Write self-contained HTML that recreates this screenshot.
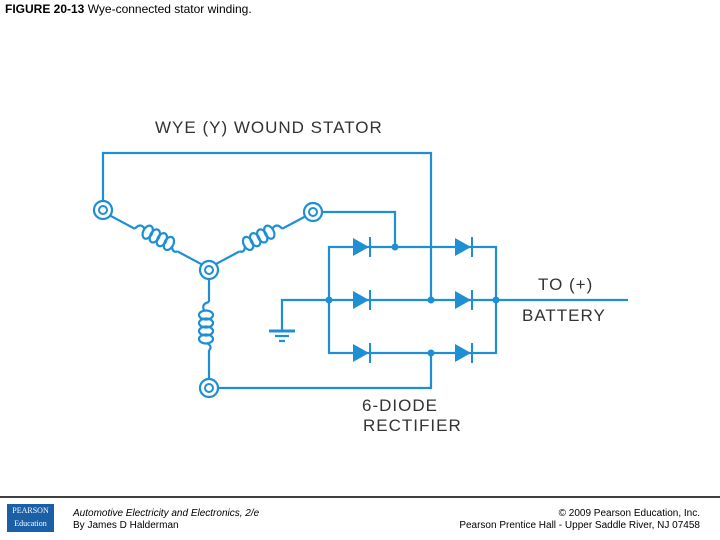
<!DOCTYPE html>
<html><head><style>
body{margin:0;width:720px;height:540px;background:#fff;position:relative;overflow:hidden;font-family:"Liberation Sans",sans-serif}
.t{position:absolute;white-space:nowrap}
.L{font-size:17px;color:#333;letter-spacing:1px}
</style></head><body>
<div class="t" style="left:5px;top:2px;font-size:12px"><b>FIGURE 20-13</b> Wye-connected stator winding.</div>
<svg width="720" height="540" style="position:absolute;left:0;top:0">
<defs>
<g id="d"><polygon points="-9,-9 -9,9 7,0"/><rect x="7" y="-10" width="2" height="20"/></g>
<g id="coil" fill="none" stroke="#1e8fd5" stroke-width="2.2">
<line x1="-60" y1="0" x2="-24" y2="0"/>
<line x1="24" y1="0" x2="60" y2="0"/>
<path d="M-24,0 q2,-8 8,-5"/>
<ellipse cx="-11" cy="-3" rx="4.5" ry="7"/>
<ellipse cx="-3" cy="-3" rx="4.5" ry="7"/>
<ellipse cx="5" cy="-3" rx="4.5" ry="7"/>
<ellipse cx="13" cy="-3" rx="4.5" ry="7"/>
<path d="M17,-2 q4,6 7,2"/>
</g>
</defs>
<g stroke="#1e8fd5" fill="none" stroke-width="2.2">
<polyline points="103,200 103,153 431,153 431,300"/>
<polyline points="322,212 395,212 395,247"/>
<rect x="329" y="247" width="167" height="106"/>
<line x1="329" y1="300" x2="496" y2="300"/>
<line x1="496" y1="300" x2="628" y2="300"/>
<polyline points="329,300 282,300 282,330"/>
<line x1="269" y1="331" x2="295" y2="331" stroke-width="3"/>
<line x1="275" y1="336" x2="289" y2="336"/>
<line x1="279" y1="341" x2="285" y2="341"/>
<polyline points="218,388 431,388 431,353"/>
</g>
<use href="#coil" transform="translate(156,240) rotate(28)"/>
<use href="#coil" transform="translate(261,240) rotate(-28) scale(-1,1)"/>
<use href="#coil" transform="translate(209,326) rotate(90) scale(1,-1)"/>
<g fill="#1e8fd5">
<use href="#d" x="362" y="247"/><use href="#d" x="464" y="247"/>
<use href="#d" x="362" y="300"/><use href="#d" x="464" y="300"/>
<use href="#d" x="362" y="353"/><use href="#d" x="464" y="353"/>
<circle cx="395" cy="247" r="3.5"/><circle cx="329" cy="300" r="3.5"/><circle cx="431" cy="300" r="3.5"/><circle cx="496" cy="300" r="3.5"/><circle cx="431" cy="353" r="3.5"/>
</g>
<g stroke="#1e8fd5" fill="#fff">
<g stroke-width="2.2"><circle cx="103" cy="210" r="9"/><circle cx="313" cy="212" r="9"/><circle cx="209" cy="270" r="9"/><circle cx="209" cy="388" r="9"/></g>
<g stroke-width="2"><circle cx="103" cy="210" r="4"/><circle cx="313" cy="212" r="4"/><circle cx="209" cy="270" r="4"/><circle cx="209" cy="388" r="4"/></g>
</g>
<line x1="0" y1="497" x2="720" y2="497" stroke="#000" stroke-width="1.5"/>
</svg>
<div class="t L" style="left:155px;top:118px">WYE (Y) WOUND STATOR</div>
<div class="t L" style="left:538px;top:275px">TO (+)</div>
<div class="t L" style="left:522px;top:306px">BATTERY</div>
<div class="t L" style="left:362px;top:396px">6-DIODE</div>
<div class="t L" style="left:363px;top:416px">RECTIFIER</div>
<div style="position:absolute;left:7px;top:504px;width:47px;height:28px;background:#1a5fa8;color:#fff;font-size:8px;text-align:center;line-height:13px;font-family:'Liberation Serif',serif">PEARSON<br>Education</div>
<div class="t" style="left:73px;top:508px;font-size:10px;font-style:italic">Automotive Electricity and Electronics, 2/e</div>
<div class="t" style="left:73px;top:520px;font-size:10px">By James D Halderman</div>
<div class="t" style="right:20px;top:508px;font-size:10px;text-align:right">© 2009 Pearson Education, Inc.</div>
<div class="t" style="right:20px;top:520px;font-size:10px;text-align:right">Pearson Prentice Hall - Upper Saddle River, NJ 07458</div>
</body></html>
